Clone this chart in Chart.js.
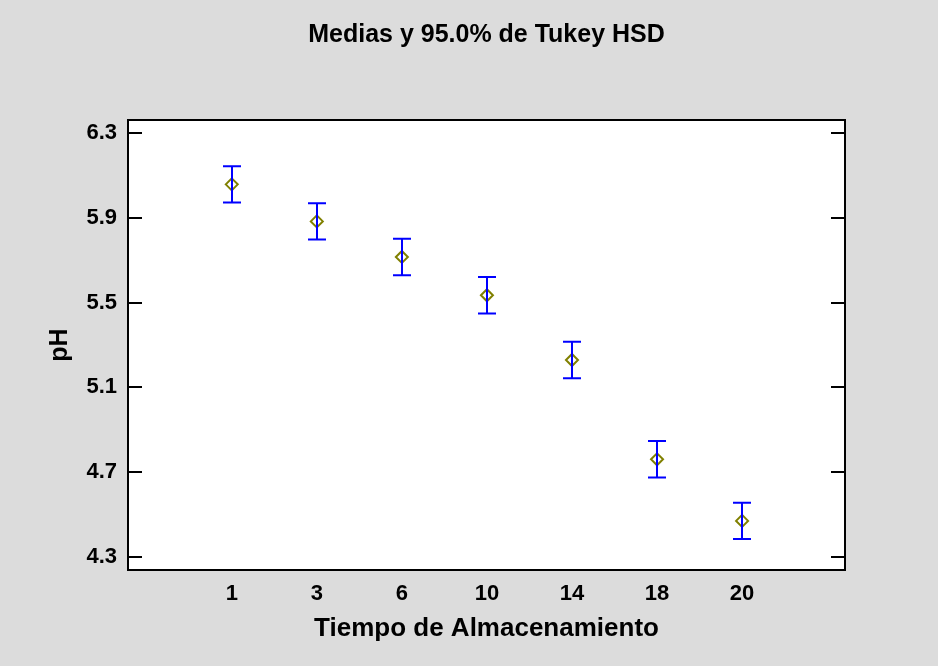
<!DOCTYPE html>
<html>
<head>
<meta charset="utf-8">
<script src="https://cdn.jsdelivr.net/npm/chart.js@4/dist/chart.umd.min.js"></script>
<style>
  html, body { margin: 0; padding: 0; background: #dcdcdc; }
  #wrap { width: 938px; height: 666px; }
</style>
</head>
<body>
<div id="wrap"><canvas id="mycanvas"></canvas></div>
<script>
// storage time groups and the pH means with their Tukey HSD half-intervals
var tiempos = ["1", "3", "6", "10", "14", "18", "20"];
var medias = [6.059, 5.884, 5.716, 5.535, 5.229, 4.760, 4.469];
var semiIntervalo = [0.086, 0.086, 0.086, 0.086, 0.086, 0.086, 0.086];
var yTicks = [4.3, 4.7, 5.1, 5.5, 5.9, 6.3];

var fontFam = "'Liberation Sans', Arial, sans-serif";

var puntos = [];
for (var i in medias) {
	puntos.push({ x: Number(i), y: medias[i] });
}

// blue interval bars with caps, drawn from the y scale
var barrasError = {
	id: 'barrasError',
	afterDatasetsDraw: function(chart) {
		var ctx = chart.ctx;
		var xs = chart.scales.x, ys = chart.scales.y;
		ctx.save();
		ctx.strokeStyle = "#0000ff";
		ctx.lineWidth = 2;
		for (var i = 0; i < medias.length; i++) {
			var px = Math.round(xs.getPixelForValue(i));
			var top = ys.getPixelForValue(medias[i] + semiIntervalo[i]);
			var bot = ys.getPixelForValue(medias[i] - semiIntervalo[i]);
			ctx.beginPath();
			ctx.moveTo(px, top); ctx.lineTo(px, bot);
			ctx.moveTo(px - 9, top); ctx.lineTo(px + 9, top);
			ctx.moveTo(px - 9, bot); ctx.lineTo(px + 9, bot);
			ctx.stroke();
		}
		ctx.restore();
	}
};

// plot frame with inward ticks on both sides
var marco = {
	id: 'marco',
	beforeDatasetsDraw: function(chart) {
		var a = chart.chartArea, ctx = chart.ctx;
		ctx.save();
		ctx.fillStyle = "#ffffff";
		ctx.fillRect(a.left, a.top, a.right - a.left, a.bottom - a.top);
		ctx.restore();
	},
	afterDraw: function(chart) {
		var a = chart.chartArea, ctx = chart.ctx, ys = chart.scales.y;
		ctx.save();
		ctx.strokeStyle = "#000000";
		ctx.lineWidth = 2;
		ctx.strokeRect(a.left, a.top, a.right - a.left, a.bottom - a.top);
		ctx.beginPath();
		for (var k = 0; k < yTicks.length; k++) {
			var py = Math.round(ys.getPixelForValue(yTicks[k]));
			ctx.moveTo(a.left, py); ctx.lineTo(a.left + 14, py);
			ctx.moveTo(a.right, py); ctx.lineTo(a.right - 14, py);
		}
		ctx.stroke();
		ctx.restore();
	}
};

var ctx = document.getElementById("mycanvas");

var grafico = new Chart(ctx, {
	type: 'scatter',
	data: {
		datasets: [{
			label: "pH",
			data: puntos,
			xAxisID: 'x',
			yAxisID: 'y',
			pointStyle: 'rectRot',
			pointRadius: 6,
			pointHoverRadius: 6,
			borderColor: "#808000",
			backgroundColor: "rgba(0,0,0,0)",
			borderWidth: 2
		}]
	},
	options: {
		responsive: true,
		maintainAspectRatio: false,
		animation: false,
		events: [],
		layout: { padding: { left: 0, right: 93, top: 0, bottom: 0 } },
		plugins: {
			legend: { display: false },
			tooltip: { enabled: false }
		},
		scales: {
			x: {
				type: 'linear',
				position: 'bottom',
				min: -1.22,
				max: 7.21,
				afterBuildTicks: function(scale) {
					scale.ticks = tiempos.map(function(t, i) { return { value: i }; });
				},
				afterFit: function(scale) { scale.height = 96; },
				grid: { display: false, drawTicks: false },
				border: { display: false },
				ticks: {
					color: "#000000",
					padding: 11,
					font: { family: fontFam, size: 22, weight: 'bold' },
					callback: function(v) { return tiempos[v]; }
				},
				title: {
					display: true,
					text: "Tiempo de Almacenamiento",
					color: "#000000",
					font: { family: fontFam, size: 26, weight: 'bold', lineHeight: 1.2 },
					padding: { top: 0, bottom: 22 }
				}
			},
			// top axis only carries the chart title, centred over the plot
			arriba: {
				type: 'linear',
				axis: 'x',
				position: 'top',
				afterFit: function(scale) { scale.height = 120; },
				grid: { display: false, drawTicks: false },
				border: { display: false },
				ticks: { display: false },
				title: {
					display: true,
					text: "Medias y 95.0% de Tukey HSD",
					color: "#000000",
					font: { family: fontFam, size: 25, weight: 'bold', lineHeight: 1.2 },
					padding: { top: 20, bottom: 0 }
				}
			},
			y: {
				min: 4.237,
				max: 6.363,
				afterBuildTicks: function(scale) {
					scale.ticks = yTicks.map(function(v) { return { value: v }; });
				},
				afterFit: function(scale) { scale.width = 128; },
				grid: { display: false, drawTicks: false },
				border: { display: false },
				ticks: {
					color: "#000000",
					padding: 11,
					font: { family: fontFam, size: 22, weight: 'bold' },
					callback: function(v) { return v.toFixed(1); }
				},
				title: {
					display: true,
					text: "pH",
					color: "#000000",
					font: { family: fontFam, size: 25, weight: 'bold', lineHeight: 1.2 },
					padding: { top: 45, bottom: 0 }
				}
			}
		}
	},
	plugins: [marco, barrasError]
});
</script>
</body>
</html>
